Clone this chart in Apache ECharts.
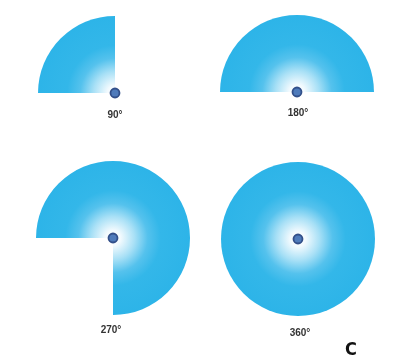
<!DOCTYPE html>
<html><head><meta charset="utf-8">
<script src="https://cdn.jsdelivr.net/npm/echarts@6/dist/echarts.min.js"></script>
<style>html,body{margin:0;padding:0;background:#fff;}#c{width:395px;height:361px;}</style>
</head><body><div id="c"></div>
<script>
const angles = [90, 180, 270, 360];
const labels = ['90°', '180°', '270°', '360°'];
const centers = [[115, 93], [297, 92], [113, 238], [298, 239]];
const labelPos = [[115, 116], [298, 114], [111, 331], [300, 334]];
const R = 77;

const chart = echarts.init(document.getElementById('c'), null, {renderer: 'canvas'});
const series = [];
const titles = [];
angles.forEach((a, i) => {
  const [cx, cy] = centers[i];
  series.push({
    type: 'pie', silent: true, animation: false,
    center: [cx, cy], radius: [0, R],
    startAngle: 180, clockwise: true,
    label: {show: false}, labelLine: {show: false},
    data: [
      {value: a, itemStyle: {color: {
        type: 'radial', x: cx, y: cy, r: R, global: true,
        colorStops: [
          {offset: 0, color: '#ffffff'},
          {offset: 0.1, color: '#f2fafe'},
          {offset: 0.28, color: '#a8e0f6'},
          {offset: 0.45, color: '#55c2ed'},
          {offset: 0.62, color: '#33b7e9'},
          {offset: 1, color: '#2db4e8'}
        ]}}},
      {value: 360 - a, itemStyle: {color: 'rgba(0,0,0,0)'}}
    ]
  });
  series.push({
    type: 'pie', silent: true, animation: false,
    center: [cx, cy], radius: [0, 4.5],
    label: {show: false}, labelLine: {show: false},
    data: [{value: 1, itemStyle: {color: '#4f7bbb', borderColor: '#33508a', borderWidth: 1.8}}]
  });
  titles.push({
    text: labels[i], left: labelPos[i][0], top: labelPos[i][1] - 6,
    textAlign: 'center', padding: 0,
    textStyle: {fontSize: 10, fontWeight: 'bold', color: '#333333', fontFamily: 'Liberation Sans'}
  });
});
titles.push({
  text: 'C', left: 351, top: 341, textAlign: 'center', padding: 0,
  textStyle: {fontSize: 18, fontWeight: 'bold', color: '#111', fontFamily: 'DejaVu Sans Condensed'}
});
chart.setOption({animation: false, title: titles, series: series});
</script></body></html>
